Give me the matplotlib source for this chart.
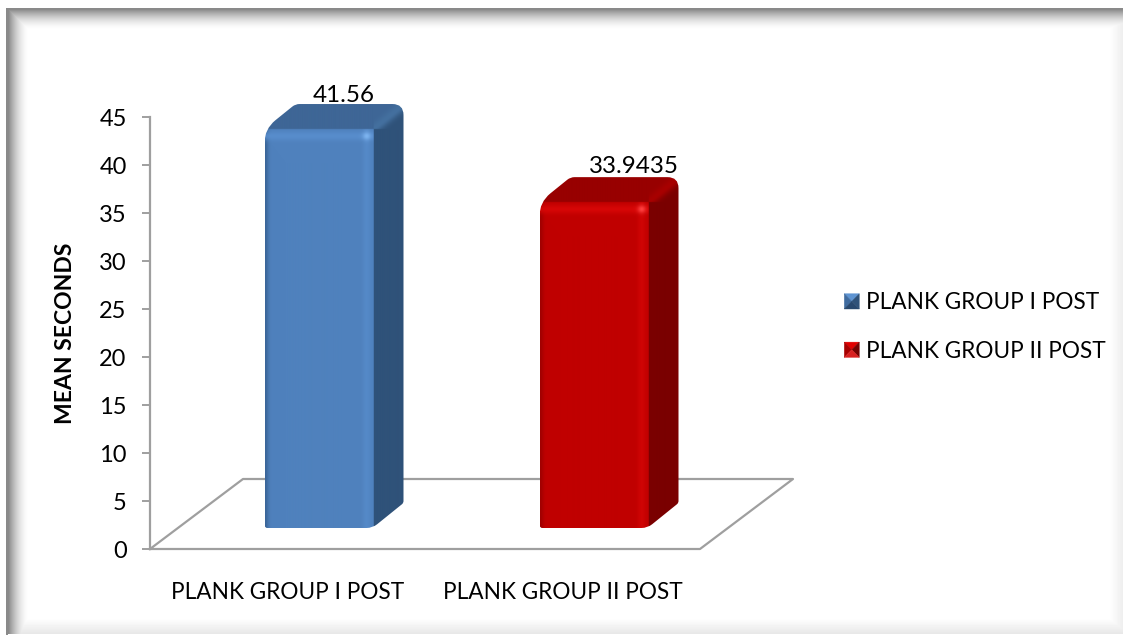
import matplotlib

matplotlib.use("Agg")

import matplotlib.pyplot as plt
import numpy as np
from matplotlib.legend_handler import HandlerBase
from matplotlib.patches import Patch, Polygon
from matplotlib.path import Path

plt.rcParams["font.family"] = ["Lato", "DejaVu Sans"]

groups = ["PLANK GROUP I POST", "PLANK GROUP II POST"]
means = [41.56, 33.9435]
value_labels = ["41.56", "33.9435"]
y_ticks = [0, 5, 10, 15, 20, 25, 30, 35, 40, 45]

BLUE = {
    "front": "#4f81bd", "edge": "#3a6598", "band": "#5a90d0", "spot": "#7db4f0",
    "top": "#3e6696", "side": "#2f5279", "bevel": "#44709f",
    "key": ["#5e94d2", "#3f6b9f", "#2f5279", "#28486e"],
}
RED = {
    "front": "#c00000", "edge": "#a00000", "band": "#dc0808", "spot": "#ff4040",
    "top": "#980000", "side": "#7a0000", "bevel": "#a80000",
    "key": ["#e00000", "#a80000", "#740000", "#d82020"],
}
STYLES = [BLUE, RED]

FIG_W, FIG_H = 1123, 635
AX_LEFT, AX_RIGHT, AX_TOP, AX_BOTTOM = 150, 793, 117, 549
CAT_PX = 275.0
UNIT_PX = (AX_BOTTOM - AX_TOP) / 45.0
AXIS_GREY = "#9f9f9f"

# 3D box geometry, in pixels
FLOOR_DX, FLOOR_DY = 93, 70
BAR_W, BAR_DX, BAR_DY = 108, 31, 25
BAR_SHIFT, BAR_LIFT = 31, 21


def rgb(color):
    return np.array(matplotlib.colors.to_rgb(color))


def rounded_path(points, radii):
    verts, codes = [], []
    n = len(points)
    for i, (p, r) in enumerate(zip(points, radii)):
        p = np.array(p, float)
        prev = np.array(points[i - 1], float)
        nxt = np.array(points[(i + 1) % n], float)
        a = p + (prev - p) / np.linalg.norm(prev - p) * r
        b = p + (nxt - p) / np.linalg.norm(nxt - p) * r
        verts.append(a)
        codes.append(Path.MOVETO if i == 0 else Path.LINETO)
        verts += [p, b]
        codes += [Path.CURVE3, Path.CURVE3]
    verts.append(verts[0])
    codes.append(Path.CLOSEPOLY)
    return Path(verts, codes)


def shade_bar(height_px, style):
    w, h = BAR_W, height_px
    us = np.arange(0, w + BAR_DX, 0.5) + 0.25
    vs = np.arange(0, h + BAR_DY, 0.5) + 0.25
    u, v = np.meshgrid(us, vs)
    img = np.zeros(u.shape + (3,))

    front = (u <= w) & (v <= h)
    on_top = (v > h) & ((u - w) < (v - h) * BAR_DX / BAR_DY)
    img[:] = rgb(style["side"])
    img[on_top] = rgb(style["top"])

    # soft bevel running from the front corner to the back corner
    dist = np.abs((u - w) * BAR_DY - (v - h) * BAR_DX) / np.hypot(BAR_DX, BAR_DY)
    bevel = np.exp(-(dist / 5.0) ** 2) * ((u > w) & (v > h))
    img += bevel[..., None] * (rgb(style["bevel"]) - img)

    body = np.broadcast_to(rgb(style["front"]), img.shape).copy()
    left = np.exp(-(u / 3.5) ** 2)[..., None]
    body += left * (rgb(style["edge"]) - body)
    band_top = np.exp(-((h - v - 7) / 4.5) ** 2)[..., None] * 0.8
    band_right = np.exp(-((w - u - 7) / 4.0) ** 2)[..., None] * 0.55
    band = np.maximum(band_top, band_right)
    body += band * (rgb(style["band"]) - body)
    spot = np.exp(-(((w - u - 7) ** 2 + (h - v - 7) ** 2) / 16.0))[..., None]
    body += spot * (rgb(style["spot"]) - body)
    img[front] = body[front]
    return np.clip(img, 0, 1)


class BevelKeyHandler(HandlerBase):
    def create_artists(self, legend, orig, xd, yd, width, height, fontsize, trans):
        colors = orig.get_gid().split(",")
        x0, y0, x1, y1 = -xd, -yd, -xd + width, -yd + height
        cx, cy = (x0 + x1) / 2, (y0 + y1) / 2
        corners = [(x0, y1), (x1, y1), (x1, y0), (x0, y0)]
        sides = [(0, 1, 0), (3, 0, 1), (1, 2, 2), (2, 3, 3)]
        return [
            Polygon([corners[a], corners[b], (cx, cy)], closed=True, facecolor=colors[c],
                    edgecolor=colors[c], linewidth=0.3, transform=trans)
            for a, b, c in sides
        ]


def add_backdrop(fig):
    back = fig.add_axes([0, 0, 1, 1], zorder=0)
    yy, xx = np.mgrid[0:FIG_H, 0:FIG_W]
    shadow = np.zeros((FIG_H, FIG_W))
    shadow = np.maximum(shadow, 0.50 * np.clip(1 - (xx - 7) / 22.0, 0, 1) ** 1.8)
    shadow = np.maximum(shadow, 0.50 * np.clip(1 - (yy - 9) / 22.0, 0, 1) ** 1.8)
    shadow = np.maximum(shadow, 0.07 * np.clip(1 - (1123 - xx) / 14.0, 0, 1))
    shadow = np.maximum(shadow, 0.10 * np.clip(1 - (635 - yy) / 16.0, 0, 1))
    shadow[:9, :] = 0
    shadow[:, :7] = 0
    back.imshow(1 - shadow, cmap="gray", vmin=0, vmax=1, aspect="auto", interpolation="nearest")
    back.plot([6.5, 6.5], [635, 9], color="#8a8a8a", lw=1.4)
    back.plot([6.5, 1123], [9, 9], color="#8a8a8a", lw=1.4)
    back.set_xlim(0, FIG_W)
    back.set_ylim(FIG_H, 0)
    back.axis("off")


def draw_bar(ax, index, value, style):
    x_unit = 1 / CAT_PX
    y_unit = 1 / UNIT_PX
    x0 = index + (BAR_SHIFT - BAR_W / 2) * x_unit
    base = BAR_LIFT * y_unit
    h_px = value * UNIT_PX

    # silhouette in pixels relative to the front lower-left corner
    w, dx, dy = BAR_W, BAR_DX, BAR_DY
    outline = [(0, 0), (w, 0), (w + dx, dy), (w + dx, h_px + dy), (dx, h_px + dy), (0, h_px)]
    radii = [3, 6, 2, 11, 4, 14]
    px_path = rounded_path(outline, radii)
    verts = px_path.vertices * [x_unit, y_unit] + [x0, base]
    clip = Path(verts, px_path.codes)

    extent = [x0, x0 + (w + dx) * x_unit, base, base + (h_px + dy) * y_unit]
    image = ax.imshow(shade_bar(h_px, style), origin="lower", extent=extent, aspect="auto",
                      interpolation="bilinear", zorder=3)
    image.set_clip_box(ax.figure.bbox)
    image.set_clip_path(clip, ax.transData)


def main():
    fig = plt.figure(figsize=(FIG_W / 100, FIG_H / 100), dpi=100, facecolor="white")
    add_backdrop(fig)

    ax = fig.add_axes([
        AX_LEFT / FIG_W, 1 - AX_BOTTOM / FIG_H,
        (AX_RIGHT - AX_LEFT) / FIG_W, (AX_BOTTOM - AX_TOP) / FIG_H,
    ], zorder=1)
    ax.patch.set_alpha(0)

    # floor of the 3D plot area
    floor_dx = FLOOR_DX / CAT_PX
    floor_dy = FLOOR_DY / UNIT_PX
    floor_x = [-0.5, 1.5, 1.5 + floor_dx, -0.5 + floor_dx, -0.5]
    floor_y = [0, 0, floor_dy, floor_dy, 0]
    ax.plot(floor_x, floor_y, color=AXIS_GREY, lw=1.6, clip_on=False, zorder=2)

    for i, (value, style) in enumerate(zip(means, STYLES)):
        draw_bar(ax, i, value, style)

    label_offsets = [(56.5, 34), (71.5, 36)]
    for i, (value, text, offset) in enumerate(zip(means, value_labels, label_offsets)):
        ax.annotate(text, xy=(i, value + BAR_LIFT / UNIT_PX), xytext=offset,
                    textcoords="offset pixels", ha="center", va="center",
                    fontsize=17.4, color="black", zorder=5, annotation_clip=False)

    ax.set_xlim(-0.5, -0.5 + (AX_RIGHT - AX_LEFT) / CAT_PX)
    ax.set_ylim(0, 45)
    ax.set_yticks(y_ticks)
    ax.set_xticks([0, 1], groups)
    ax.tick_params(axis="y", length=5.8, width=1.4, color=AXIS_GREY, labelsize=17, pad=11)
    ax.tick_params(axis="x", length=0, labelsize=16.3, pad=24)
    for name in ("top", "right", "bottom"):
        ax.spines[name].set_visible(False)
    ax.spines["left"].set_color(AXIS_GREY)
    ax.spines["left"].set_linewidth(1.6)
    ax.set_ylabel("MEAN SECONDS", fontsize=16.5, fontweight="bold", labelpad=0)
    ax.yaxis.set_label_coords((76 - AX_LEFT) / (AX_RIGHT - AX_LEFT), 0.5)

    handles = [Patch(label=g, gid=",".join(s["key"])) for g, s in zip(groups, STYLES)]
    fig.legend(
        handles=handles, loc="center left", frameon=False, fontsize=16.3,
        bbox_to_anchor=(833 / FIG_W, 1 - 327 / FIG_H),
        handler_map={Patch: BevelKeyHandler()},
        handlelength=0.66, handleheight=0.66, handletextpad=0.31, labelspacing=1.21,
        borderpad=0, borderaxespad=0.5,
    )

    fig.savefig("out.png", dpi=100)


if __name__ == "__main__":
    main()
